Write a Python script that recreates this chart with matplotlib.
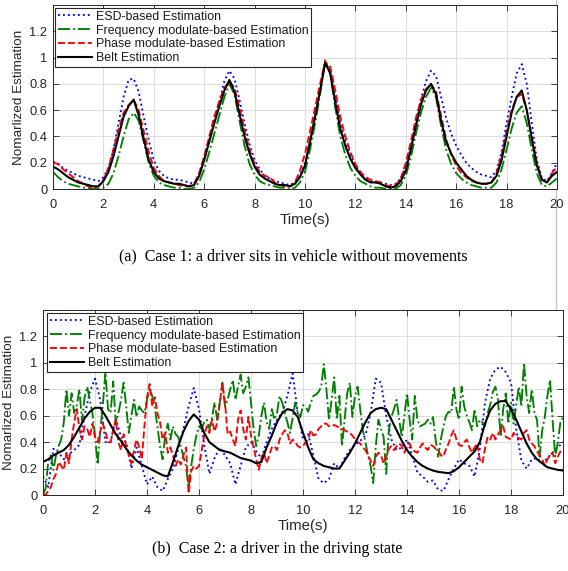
import numpy as np
import matplotlib
matplotlib.use("Agg")
import matplotlib.pyplot as plt
from matplotlib.lines import Line2D

# ---------------- data: Case 1 (0.2 s sampling) ----------------
esd_1 = [0.21,0.19,0.16,0.14,0.12,0.10,0.09,0.08,0.07,0.06,
         0.09,0.16,0.30,0.50,0.70,0.83,0.84,0.74,0.55,0.37,
         0.22,0.14,0.10,0.08,0.07,0.07,0.06,0.05,0.04,0.12,
         0.24,0.38,0.52,0.66,0.82,0.90,0.84,0.68,0.50,0.34,
         0.22,0.15,0.10,0.08,0.06,0.05,0.04,0.03,0.05,0.10,
         0.20,0.36,0.55,0.75,0.96,0.90,0.70,0.50,0.36,0.26,
         0.18,0.12,0.08,0.06,0.05,0.05,0.04,0.03,0.04,0.08,
         0.17,0.32,0.50,0.68,0.82,0.90,0.86,0.70,0.54,0.42,
         0.33,0.26,0.20,0.16,0.13,0.11,0.10,0.09,0.14,0.28,
         0.50,0.70,0.88,0.95,0.80,0.50,0.22,0.08,0.06,0.12,
         0.20]
freq_1 = [0.13,0.09,0.06,0.04,0.03,0.02,0.01,0.01,0.00,0.00,
          0.01,0.04,0.12,0.25,0.40,0.53,0.58,0.52,0.36,0.20,
          0.10,0.05,0.03,0.02,0.01,0.01,0.00,0.00,0.01,0.05,
          0.15,0.28,0.42,0.56,0.70,0.80,0.72,0.52,0.33,0.19,
          0.11,0.06,0.04,0.03,0.02,0.01,0.01,0.00,0.01,0.05,
          0.13,0.30,0.50,0.72,0.98,0.88,0.62,0.40,0.26,0.16,
          0.10,0.06,0.04,0.02,0.01,0.01,0.00,0.00,0.00,0.03,
          0.10,0.24,0.42,0.58,0.70,0.77,0.70,0.48,0.30,0.19,
          0.12,0.08,0.05,0.03,0.02,0.01,0.01,0.01,0.05,0.15,
          0.30,0.46,0.58,0.63,0.50,0.30,0.12,0.03,0.02,0.05,
          0.08]
phase_1 = [0.20,0.19,0.15,0.12,0.09,0.06,0.04,0.02,0.01,0.02,
           0.07,0.16,0.30,0.45,0.58,0.64,0.68,0.60,0.44,0.28,
           0.16,0.10,0.06,0.05,0.04,0.03,0.02,0.02,0.04,0.12,
           0.25,0.40,0.55,0.67,0.77,0.82,0.77,0.62,0.45,0.30,
           0.19,0.13,0.10,0.09,0.05,0.03,0.02,0.02,0.05,0.14,
           0.27,0.44,0.62,0.80,0.97,0.93,0.75,0.55,0.40,0.28,
           0.19,0.13,0.09,0.07,0.06,0.05,0.03,0.02,0.03,0.08,
           0.20,0.36,0.54,0.68,0.76,0.80,0.74,0.56,0.38,0.26,
           0.18,0.12,0.09,0.06,0.05,0.04,0.04,0.05,0.12,0.26,
           0.44,0.60,0.70,0.72,0.60,0.40,0.20,0.07,0.05,0.12,
           0.17]
belt_1 = [0.17,0.15,0.12,0.09,0.07,0.05,0.04,0.03,0.02,0.02,
          0.06,0.13,0.25,0.40,0.55,0.63,0.68,0.56,0.38,0.22,
          0.13,0.08,0.06,0.05,0.04,0.04,0.03,0.02,0.03,0.10,
          0.22,0.36,0.50,0.63,0.75,0.83,0.74,0.57,0.40,0.27,
          0.17,0.11,0.08,0.06,0.04,0.03,0.03,0.02,0.04,0.09,
          0.18,0.36,0.55,0.75,0.96,0.88,0.66,0.46,0.33,0.23,
          0.16,0.11,0.07,0.05,0.05,0.04,0.02,0.01,0.02,0.06,
          0.14,0.30,0.48,0.64,0.75,0.80,0.72,0.52,0.36,0.27,
          0.20,0.15,0.10,0.07,0.05,0.04,0.04,0.05,0.10,0.22,
          0.40,0.58,0.70,0.75,0.60,0.38,0.18,0.07,0.05,0.10,
          0.13]

# ---------------- data: Case 2 ----------------
# ESD and belt at 0.2 s sampling
esd_2 = [0.14,0.06,0.35,0.32,0.27,0.31,0.34,0.38,0.60,0.78,
         0.88,0.72,0.40,0.40,0.58,0.44,0.40,0.20,0.36,0.22,
         0.08,0.14,0.06,0.03,0.12,0.20,0.35,0.50,0.67,0.81,
         0.65,0.38,0.16,0.28,0.36,0.30,0.24,0.08,0.22,0.36,
         0.40,0.33,0.28,0.40,0.50,0.57,0.62,0.75,0.92,0.62,
         0.42,0.46,0.30,0.12,0.09,0.12,0.24,0.20,0.28,0.34,
         0.38,0.41,0.45,0.62,0.88,0.85,0.60,0.42,0.34,0.36,
         0.42,0.30,0.17,0.14,0.10,0.11,0.04,0.03,0.12,0.20,
         0.27,0.24,0.22,0.14,0.35,0.70,0.88,0.95,0.97,0.93,
         0.85,0.50,0.26,0.20,0.27,0.28,0.24,0.28,0.32,0.36,
         0.40]
belt_2 = [0.25,0.27,0.30,0.32,0.34,0.38,0.44,0.51,0.58,0.63,
          0.66,0.66,0.60,0.53,0.46,0.41,0.35,0.30,0.26,0.23,
          0.21,0.19,0.17,0.15,0.14,0.25,0.37,0.48,0.56,0.61,
          0.57,0.47,0.40,0.37,0.34,0.33,0.32,0.30,0.28,0.27,
          0.26,0.24,0.25,0.36,0.45,0.55,0.62,0.65,0.64,0.59,
          0.47,0.36,0.27,0.24,0.22,0.21,0.20,0.20,0.26,0.32,
          0.39,0.47,0.55,0.62,0.65,0.66,0.65,0.57,0.49,0.41,
          0.34,0.29,0.25,0.22,0.20,0.185,0.175,0.17,0.165,0.18,
          0.21,0.25,0.29,0.33,0.40,0.54,0.64,0.69,0.71,0.71,
          0.65,0.57,0.48,0.39,0.32,0.27,0.24,0.21,0.20,0.19,
          0.185]
# frequency and phase at 0.1 s sampling
freq_2 = [0.00,0.05,0.25,0.30,0.19,0.30,0.37,0.42,0.55,0.80,
          0.60,0.77,0.62,0.68,0.80,0.56,0.74,0.82,0.72,0.62,
          0.45,0.23,0.48,0.68,0.93,0.65,0.62,0.86,0.54,0.62,
          0.72,0.85,0.67,0.47,0.60,0.72,0.59,0.67,0.64,0.62,
          0.72,0.80,0.75,0.66,0.52,0.37,0.27,0.45,0.54,0.42,
          0.52,0.46,0.44,0.37,0.29,0.22,0.06,0.22,0.35,0.45,
          0.52,0.50,0.55,0.57,0.50,0.58,0.70,0.57,0.70,0.85,
          0.67,0.72,0.80,0.87,0.72,0.82,0.91,0.77,0.82,0.89,
          0.70,0.50,0.37,0.45,0.60,0.70,0.55,0.50,0.65,0.57,
          0.62,0.75,0.70,0.62,0.55,0.47,0.58,0.70,0.62,0.59,
          0.68,0.67,0.63,0.70,0.75,0.76,0.78,0.82,0.99,0.80,
          0.57,0.72,0.89,0.57,0.75,0.37,0.57,0.77,0.85,0.59,
          0.75,0.82,0.65,0.49,0.40,0.30,0.22,0.09,0.37,0.57,
          0.50,0.44,0.16,0.49,0.59,0.65,0.72,0.57,0.44,0.60,
          0.77,0.57,0.42,0.75,0.57,0.52,0.53,0.54,0.57,0.54,
          0.59,0.42,0.29,0.42,0.52,0.60,0.63,0.62,0.82,0.65,
          0.57,0.82,0.67,0.60,0.55,0.49,0.65,0.52,0.57,0.55,
          0.52,0.62,0.68,0.78,0.82,0.72,0.44,0.65,0.77,0.54,
          0.70,0.54,0.68,0.82,0.67,1.00,0.75,0.62,0.80,0.62,
          0.57,0.29,0.49,0.59,0.75,0.87,0.57,0.29,0.40,0.55,
          0.59]
phase_2 = [0.00,0.00,0.03,0.06,0.12,0.16,0.25,0.22,0.19,0.32,
           0.24,0.42,0.55,0.65,0.50,0.42,0.52,0.50,0.44,0.54,
           0.44,0.40,0.48,0.54,0.48,0.40,0.40,0.49,0.57,0.40,
           0.34,0.46,0.37,0.30,0.24,0.34,0.42,0.36,0.27,0.52,
           0.74,0.84,0.68,0.74,0.62,0.55,0.42,0.47,0.32,0.36,
           0.30,0.22,0.27,0.23,0.30,0.36,0.01,0.18,0.22,0.20,
           0.22,0.33,0.45,0.52,0.47,0.57,0.48,0.55,0.70,0.84,
           0.70,0.46,0.48,0.42,0.37,0.57,0.64,0.50,0.42,0.59,
           0.45,0.36,0.27,0.19,0.28,0.32,0.24,0.30,0.36,0.37,
           0.34,0.42,0.46,0.49,0.47,0.39,0.42,0.40,0.37,0.36,
           0.37,0.40,0.42,0.49,0.45,0.46,0.50,0.52,0.54,0.54,
           0.52,0.52,0.53,0.52,0.51,0.50,0.49,0.48,0.47,0.45,
           0.42,0.40,0.39,0.36,0.34,0.30,0.26,0.22,0.29,0.32,
           0.30,0.24,0.29,0.35,0.37,0.34,0.37,0.39,0.37,0.32,
           0.37,0.39,0.34,0.33,0.32,0.36,0.39,0.36,0.34,0.38,
           0.37,0.35,0.34,0.30,0.29,0.35,0.39,0.45,0.49,0.42,
           0.38,0.37,0.40,0.42,0.36,0.32,0.36,0.39,0.27,0.24,
           0.35,0.44,0.42,0.47,0.42,0.46,0.49,0.52,0.44,0.43,
           0.42,0.47,0.44,0.43,0.42,0.47,0.49,0.42,0.39,0.37,
           0.33,0.30,0.27,0.22,0.27,0.30,0.32,0.24,0.29,0.33,
           0.34]

labels = ["ESD-based Estimation", "Frequency modulate-based Estimation",
          "Phase modulate-based Estimation", "Belt Estimation"]
xticks = [0, 2, 4, 6, 8, 10, 12, 14, 16, 18, 20]
yticks = [0, 0.2, 0.4, 0.6, 0.8, 1.0, 1.2]
ytick_labels = ["0", "0.2", "0.4", "0.6", "0.8", "1", "1.2"]

plt.rcParams["font.family"] = ["Liberation Sans", "DejaVu Sans"]

W, H = 568, 571
fig = plt.figure(figsize=(W / 100, H / 100), dpi=100)

def ax_rect(l, r, t, b):
    return [l / W, 1 - b / H, (r - l) / W, (b - t) / H]

ax1 = fig.add_axes(ax_rect(53, 557, 5, 189))
ax2 = fig.add_axes(ax_rect(43, 563, 310, 495))

# vertical page line
fig.add_artist(Line2D([556 / W, 556 / W], [1, 1 - 310 / H], color="#c8c8c8",
                      lw=1.0, zorder=-5))

BLUE = "#0000ff"
GREEN = "#008000"
RED = "#ff0000"
LW = 1.35

def style(ax):
    ax.set_xlim(0, 20)
    ax.set_ylim(0, 1.4)
    ax.set_xticks(xticks)
    ax.set_xticklabels([str(v) for v in xticks])
    ax.set_yticks(yticks)
    ax.set_yticklabels(ytick_labels)
    ax.grid(True, color="#dcdcdc", lw=0.7)
    ax.set_axisbelow(True)
    ax.tick_params(direction="in", length=4, width=0.6, top=True, right=True,
                   labelsize=9.3, colors="#262626", pad=4)
    ax.tick_params(axis="x", pad=7.5)
    for s in ax.spines.values():
        s.set_color("#262626")
        s.set_linewidth(0.7)
    ax.set_xlabel("Time(s)", fontsize=10.8, color="#262626", labelpad=1)
    ax.set_ylabel("Nomarlized Estimation", fontsize=9.7, color="#262626",
                  labelpad=3)

def draw(ax, t_a, t_b, esd, freq, phase, belt):
    ax.plot(t_a, esd, color=BLUE, ls=":", lw=LW, label=labels[0])
    ax.plot(t_b, freq, color=GREEN, ls="-.", lw=LW, label=labels[1])
    ax.plot(t_b, phase, color=RED, ls="--", lw=LW, label=labels[2])
    ax.plot(t_a, belt, color="black", ls="-", lw=1.5, label=labels[3])

t1 = np.linspace(0, 20, len(belt_1))
draw(ax1, t1, t1, esd_1, freq_1, phase_1, belt_1)
t2a = np.linspace(0, 20, len(belt_2))
t2b = np.linspace(0, 20, len(freq_2))
draw(ax2, t2a, t2b, esd_2, freq_2, phase_2, belt_2)

for ax, anchor in ((ax1, (0.004, 0.984)), (ax2, (0.008, 0.984))):
    style(ax)
    leg = ax.legend(loc="upper left", bbox_to_anchor=anchor, borderaxespad=0,
                    fontsize=8.95, frameon=True, fancybox=False, framealpha=1,
                    edgecolor="#262626", handlelength=2.75, handletextpad=0.3,
                    borderpad=0.22, labelspacing=0.15)
    leg.get_frame().set_linewidth(0.8)
    for tx in leg.get_texts():
        tx.set_color("#1a1a1a")

fig.text(293 / W, 1 - 256 / H, "(a)  Case 1: a driver sits in vehicle without movements",
         ha="center", va="center", fontsize=11.5, family=["Liberation Serif", "DejaVu Serif"])
fig.text(277 / W, 1 - 549 / H, "(b)  Case 2: a driver in the driving state",
         ha="center", va="center", fontsize=11.5, family=["Liberation Serif", "DejaVu Serif"])

fig.savefig("out.png", dpi=100)
